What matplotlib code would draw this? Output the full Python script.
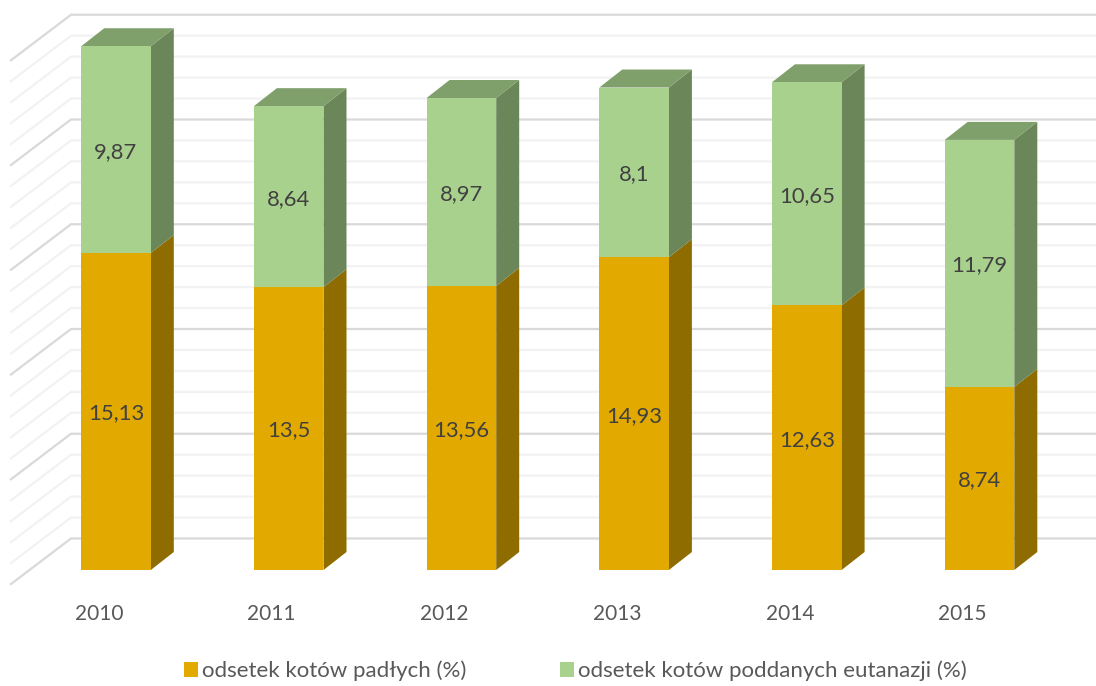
import matplotlib.pyplot as plt
from matplotlib.patches import Polygon, Patch

plt.rcParams['font.family'] = ['Lato', 'DejaVu Sans']

lata = ['2010', '2011', '2012', '2013', '2014', '2015']
padle = [15.13, 13.5, 13.56, 14.93, 12.63, 8.74]
eutanazja = [9.87, 8.64, 8.97, 8.1, 10.65, 11.79]
etykiety_padle = ['15,13', '13,5', '13,56', '14,93', '12,63', '8,74']
etykiety_eutanazja = ['9,87', '8,64', '8,97', '8,1', '10,65', '11,79']

# one category = 172.7 px, one percent = 20.95 px
px_x = 172.7
px_y = 20.95
szer = 69.6 / px_x
dx = 23 / px_x
dy = 18 / px_y
przes = -2 / px_y

fig = plt.figure(figsize=(10.96, 6.86), dpi=100)
ax = fig.add_axes([0, 0, 1, 1])
ax.set_xlim(-116 / px_x, (1096 - 116) / px_x)
ax.set_ylim((570 - 686) / px_y, 570 / px_y)
ax.axis('off')

# back wall and left wall gridlines
x_tyl = -45 / px_x
x_przod = -105 / px_x
y_tyl = 31.5 / px_y
y_przod = -14 / px_y
for v in range(0, 26):
    kolor = '#D9D9D9' if v % 5 == 0 else '#F2F2F2'
    ax.plot([x_przod, x_tyl, 1096 / px_x], [v + y_przod, v + y_tyl, v + y_tyl],
            color=kolor, lw=1.6, solid_joinstyle='miter', zorder=1)


def slupek(x, dol, gora, front, bok, wierzch=None):
    lewy = x - szer / 2
    prawy = x + szer / 2
    ax.add_patch(Polygon([(prawy, dol), (prawy + dx, dol + dy), (prawy + dx, gora + dy), (prawy, gora)],
                         fc=bok, ec='none', zorder=3))
    if wierzch:
        ax.add_patch(Polygon([(lewy, gora), (lewy + dx, gora + dy), (prawy + dx, gora + dy), (prawy, gora)],
                             fc=wierzch, ec='none', zorder=3))
    ax.add_patch(Polygon([(lewy, dol), (prawy, dol), (prawy, gora), (lewy, gora)],
                         fc=front, ec='none', zorder=4))


for i in range(len(lata)):
    p = padle[i]
    e = eutanazja[i]
    slupek(i, 0, p, '#E2AA00', '#8F6C00')
    slupek(i, p, p + e, '#A9D18E', '#6B8659', '#7F9F6B')
    ax.text(i, p / 2 + przes, etykiety_padle[i], ha='center', va='center', fontsize=15.8, color='#404040', zorder=5)
    ax.text(i, p + e / 2 + przes, etykiety_eutanazja[i], ha='center', va='center', fontsize=15.8, color='#404040', zorder=5)
    ax.text(i - 17 / px_x, -44 / px_y, lata[i], ha='center', va='center', fontsize=15, color='#595959')

uchwyty = [Patch(fc='#E2AA00', ec='none'), Patch(fc='#A9D18E', ec='none')]
fig.legend(uchwyty, ['odsetek kotów padłych (%)', 'odsetek kotów poddanych eutanazji (%)'],
           ncol=2, loc='center', bbox_to_anchor=(575.5 / 1096, 1 - 671 / 686), frameon=False,
           fontsize=16, labelcolor='#595959', handlelength=0.63, handleheight=0.63,
           handletextpad=0.2, columnspacing=4.2, borderpad=0, borderaxespad=0)

fig.savefig('out.png', dpi=100)
